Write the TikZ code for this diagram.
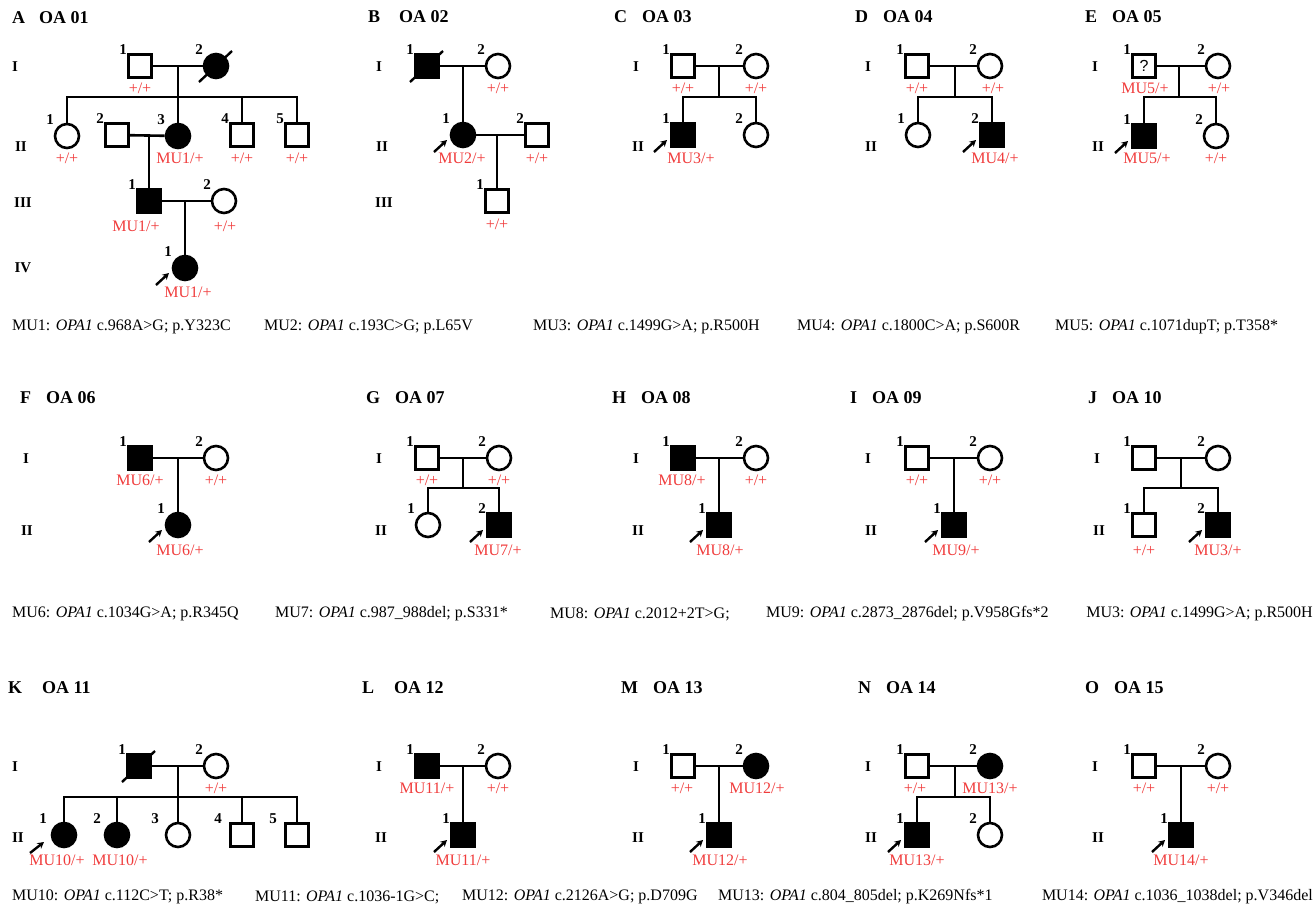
\documentclass[tikz,border=0pt]{standalone}
\usepackage{fontspec}
\setmainfont{Liberation Serif}
\newfontfamily\qfont{Liberation Sans}
\usetikzlibrary{arrows.meta,calc}
\definecolor{gtred}{RGB}{240,60,60}
\newcommand{\nl}[3][-17]{\node[num] (#2n) at ($(#2)+(#1,-16)$) {#3};}
\newcommand{\prb}[1]{\coordinate (#1t) at ($(#1)+(-29,17)$);\coordinate (#1h) at ($(#1)+(-16,5)$);\draw[arr] (#1t) -- (#1h);}
\newcommand{\dcs}[1]{\coordinate (#1d1) at ($(#1)+(-17,16)$);\coordinate (#1d2) at ($(#1)+(16,-15)$);\draw[dec] (#1d1) -- (#1d2);}
\begin{document}
\begin{tikzpicture}[x=1pt,y=-1pt,
  ln/.style={line width=2.6pt},
  sq/.style={draw,line width=2.6pt,minimum size=23pt,inner sep=0pt,fill=white},
  ci/.style={draw,circle,line width=2.6pt,minimum size=24pt,inner sep=0pt,fill=white},
  aff/.style={fill=black},
  num/.style={font=\fontsize{15}{15}\selectfont\bfseries,inner sep=0pt},
  gt/.style={text=gtred,font=\fontsize{16}{16}\selectfont,inner sep=0pt},
  gen/.style={font=\fontsize{15}{15}\selectfont\bfseries,inner sep=0pt},
  ttl/.style={font=\fontsize{18}{18}\selectfont\bfseries,anchor=west,inner sep=0pt},
  captxt/.style={font=\fontsize{16}{16}\selectfont,anchor=west,inner sep=0pt},
  arr/.style={line width=2.4pt,-{Stealth[length=6.5pt,width=7pt]}},
  dec/.style={line width=2.4pt}
]
\useasboundingbox (0,0) rectangle (1316,922);

% ================= A =================
\node[ttl] (At) at (12,18) {A\hspace{14pt}OA 01};
\node[gen] (AgI) at (15,67) {I};
\node[gen] (AgII) at (21,147) {II};
\node[gen] (AgIII) at (23,203) {III};
\node[gen] (AgIV) at (23,268) {IV};
\coordinate (Am1) at (178,66);
\coordinate (As1) at (178,97);
\coordinate (Am2) at (149,135);
\coordinate (Am3) at (185,201);
\node[sq] (A11) at (140,66) {};
\node[ci,aff] (A12) at (216,66) {};
\node[ci] (A21) at (67,136) {};
\node[sq] (A22) at (117,135) {};
\node[ci,aff] (A23) at (178,136) {};
\node[sq] (A24) at (242,135) {};
\node[sq] (A25) at (297,135) {};
\node[sq,aff] (A31) at (149,201) {};
\node[ci] (A32) at (224,201) {};
\node[ci,aff] (A41) at (185,268) {};
\draw[ln] (Am1) -- (As1);
\draw[ln] (Am2) -- (A31.north);
\draw[ln] (Am3) -- (A41.north);
\draw[ln] (A11) -- (A12);
\draw[ln] (A21.north) |- (As1) -| (A25.north);
\draw[ln] (As1) -- (A23.north);
\draw[ln] (A24.north) -- (A24.north |- As1);
\draw[ln] (A22) -- (A23);
\draw[ln] (A31) -- (A32);
\dcs{A12}
\prb{A41}
\nl{A11}{1}\nl{A12}{2}\nl{A21}{1}\nl{A22}{2}\nl{A23}{3}\nl{A24}{4}\nl{A25}{5}
\nl{A31}{1}\nl{A32}{2}\nl{A41}{1}
\node[gt] (A11g) at (140,88) {+/+};
\node[gt] (A21g) at (67,158) {+/+};
\node[gt] (A23g) at (180,158) {MU1/+};
\node[gt] (A24g) at (242,158) {+/+};
\node[gt] (A25g) at (297,158) {+/+};
\node[gt] (A31g) at (136,226) {MU1/+};
\node[gt] (A32g) at (225,226) {+/+};
\node[gt] (A41g) at (188,292) {MU1/+};

% ================= B =================
\node[ttl] (Bt) at (368,17) {B\hspace{19pt}OA 02};
\node[gen] (BgI) at (379,67) {I};
\node[gen] (BgII) at (382,147) {II};
\node[gen] (BgIII) at (384,203) {III};
\coordinate (Bm1) at (463,66);
\coordinate (Bm2) at (497,135);
\node[sq,aff] (B11) at (427,66) {};
\node[ci] (B12) at (498,66) {};
\node[ci,aff] (B21) at (463,135) {};
\node[sq] (B22) at (537,135) {};
\node[sq] (B31) at (497,201) {};
\draw[ln] (B11) -- (B12);
\draw[ln] (Bm1) -- (B21.north);
\draw[ln] (B21) -- (B22);
\draw[ln] (Bm2) -- (B31.north);
\dcs{B11}
\prb{B21}
\nl{B11}{1}\nl{B12}{2}\nl{B21}{1}\nl{B22}{2}\nl{B31}{1}
\node[gt] (B12g) at (498,88) {+/+};
\node[gt] (B21g) at (462,158) {MU2/+};
\node[gt] (B22g) at (537,158) {+/+};
\node[gt] (B31g) at (497,224) {+/+};

% ================= C =================
\node[ttl] (Ct) at (614,17) {C\hspace{15pt}OA 03};
\node[gen] (CgI) at (636,67) {I};
\node[gen] (CgII) at (638,147) {II};
\coordinate (Cm1) at (719,66);
\coordinate (Cs1) at (719,97);
\node[sq] (C11) at (683,66) {};
\node[ci] (C12) at (756,66) {};
\node[sq,aff] (C21) at (683,135) {};
\node[ci] (C22) at (756,135) {};
\draw[ln] (C11) -- (C12);
\draw[ln] (Cm1) -- (Cs1);
\draw[ln] (C21.north) |- (Cs1) -| (C22.north);
\prb{C21}
\nl{C11}{1}\nl{C12}{2}\nl{C21}{1}\nl{C22}{2}
\node[gt] (C11g) at (683,88) {+/+};
\node[gt] (C12g) at (756,88) {+/+};
\node[gt] (C21g) at (691,158) {MU3/+};

% ================= D =================
\node[ttl] (Dt) at (855,17) {D\hspace{15pt}OA 04};
\node[gen] (DgI) at (868,67) {I};
\node[gen] (DgII) at (871,147) {II};
\coordinate (Dm1) at (955,66);
\coordinate (Ds1) at (955,97);
\node[sq] (D11) at (917,66) {};
\node[ci] (D12) at (990,66) {};
\node[ci] (D21) at (918,135) {};
\node[sq,aff] (D22) at (992,135) {};
\draw[ln] (D11) -- (D12);
\draw[ln] (Dm1) -- (Ds1);
\draw[ln] (D21.north) |- (Ds1) -| (D22.north);
\prb{D22}
\nl{D11}{1}\nl{D12}{2}\nl{D21}{1}\nl{D22}{2}
\node[gt] (D11g) at (917,88) {+/+};
\node[gt] (D12g) at (993,88) {+/+};
\node[gt] (D22g) at (995,158) {MU4/+};

% ================= E =================
\node[ttl] (Et) at (1085,17) {E\hspace{15pt}OA 05};
\node[gen] (EgI) at (1095,67) {I};
\node[gen] (EgII) at (1098,147) {II};
\coordinate (Em1) at (1179,66);
\coordinate (Es1) at (1179,97);
\node[sq,font=\qfont\fontsize{16}{16}\selectfont] (E11) at (1144,66) {?};
\node[ci] (E12) at (1218,66) {};
\node[sq,aff] (E21) at (1144,136) {};
\node[ci] (E22) at (1216,136) {};
\draw[ln] (E11) -- (E12);
\draw[ln] (Em1) -- (Es1);
\draw[ln] (E21.north) |- (Es1) -| (E22.north);
\prb{E21}
\nl{E11}{1}\nl{E12}{2}\nl{E21}{1}\nl{E22}{2}
\node[gt] (E11g) at (1145,88) {MU5/+};
\node[gt] (E12g) at (1219,88) {+/+};
\node[gt] (E21g) at (1147,158) {MU5/+};
\node[gt] (E22g) at (1216,158) {+/+};

% captions row 1
\node[captxt] (cap1) at (12,327) {MU1: \textit{OPA1} c.968A>G; p.Y323C};
\node[captxt] (cap2) at (264,327) {MU2: \textit{OPA1} c.193C>G; p.L65V};
\node[captxt] (cap3) at (533,327) {MU3: \textit{OPA1} c.1499G>A; p.R500H};
\node[captxt] (cap4) at (797,327) {MU4: \textit{OPA1} c.1800C>A; p.S600R};
\node[captxt] (cap5) at (1055,327) {MU5: \textit{OPA1} c.1071dupT; p.T358*};

% ================= F =================
\node[ttl] (Ft) at (20,398) {F\hspace{15pt}OA 06};
\node[gen] (FgI) at (26,459) {I};
\node[gen] (FgII) at (27,531) {II};
\coordinate (Fm1) at (178,458);
\node[sq,aff] (F11) at (140,458) {};
\node[ci] (F12) at (216,458) {};
\node[ci,aff] (F21) at (178,525) {};
\draw[ln] (F11) -- (F12);
\draw[ln] (Fm1) -- (F21.north);
\prb{F21}
\nl{F11}{1}\nl{F12}{2}\nl{F21}{1}
\node[gt] (F11g) at (140,480) {MU6/+};
\node[gt] (F12g) at (216,480) {+/+};
\node[gt] (F21g) at (180,550) {MU6/+};

% ================= G =================
\node[ttl] (Gt) at (366,398) {G\hspace{15pt}OA 07};
\node[gen] (GgI) at (379,459) {I};
\node[gen] (GgII) at (381,531) {II};
\coordinate (Gm1) at (463,458);
\coordinate (Gs1) at (463,488);
\node[sq] (G11) at (427,458) {};
\node[ci] (G12) at (499,458) {};
\node[ci] (G21) at (428,525) {};
\node[sq,aff] (G22) at (499,525) {};
\draw[ln] (G11) -- (G12);
\draw[ln] (Gm1) -- (Gs1);
\draw[ln] (G21.north) |- (Gs1) -| (G22.north);
\prb{G22}
\nl{G11}{1}\nl{G12}{2}\nl{G21}{1}\nl{G22}{2}
\node[gt] (G11g) at (427,480) {+/+};
\node[gt] (G12g) at (499,480) {+/+};
\node[gt] (G22g) at (498,550) {MU7/+};

% ================= H =================
\node[ttl] (Ht) at (612,398) {H\hspace{15pt}OA 08};
\node[gen] (HgI) at (636,459) {I};
\node[gen] (HgII) at (638,531) {II};
\coordinate (Hm1) at (719,458);
\node[sq,aff] (H11) at (683,458) {};
\node[ci] (H12) at (756,458) {};
\node[sq,aff] (H21) at (719,525) {};
\draw[ln] (H11) -- (H12);
\draw[ln] (Hm1) -- (H21.north);
\prb{H21}
\nl{H11}{1}\nl{H12}{2}\nl{H21}{1}
\node[gt] (H11g) at (682,480) {MU8/+};
\node[gt] (H12g) at (756,480) {+/+};
\node[gt] (H21g) at (720,550) {MU8/+};

% ================= I =================
\node[ttl] (It) at (850,398) {I\hspace{15pt}OA 09};
\node[gen] (IgI) at (868,459) {I};
\node[gen] (IgII) at (871,531) {II};
\coordinate (Im1) at (954,458);
\node[sq] (I11) at (917,458) {};
\node[ci] (I12) at (990,458) {};
\node[sq,aff] (I21) at (954,525) {};
\draw[ln] (I11) -- (I12);
\draw[ln] (Im1) -- (I21.north);
\prb{I21}
\nl{I11}{1}\nl{I12}{2}\nl{I21}{1}
\node[gt] (I11g) at (917,480) {+/+};
\node[gt] (I12g) at (990,480) {+/+};
\node[gt] (I21g) at (956,550) {MU9/+};

% ================= J =================
\node[ttl] (Jt) at (1088,398) {J\hspace{15pt}OA 10};
\node[gen] (JgI) at (1097,459) {I};
\node[gen] (JgII) at (1099,531) {II};
\coordinate (Jm1) at (1181,458);
\coordinate (Js1) at (1181,488);
\node[sq] (J11) at (1144,458) {};
\node[ci] (J12) at (1218,458) {};
\node[sq] (J21) at (1144,525) {};
\node[sq,aff] (J22) at (1218,525) {};
\draw[ln] (J11) -- (J12);
\draw[ln] (Jm1) -- (Js1);
\draw[ln] (J21.north) |- (Js1) -| (J22.north);
\prb{J22}
\nl{J11}{1}\nl{J12}{2}\nl{J21}{1}\nl{J22}{2}
\node[gt] (J21g) at (1144,550) {+/+};
\node[gt] (J22g) at (1218,550) {MU3/+};

% captions row 2
\node[captxt] (cap6) at (12,614) {MU6: \textit{OPA1} c.1034G>A; p.R345Q};
\node[captxt] (cap7) at (275,614) {MU7: \textit{OPA1} c.987\_988del; p.S331*};
\node[captxt] (cap8) at (550,614) {MU8: \textit{OPA1} c.2012+2T>G;};
\node[captxt] (cap9) at (766,614) {MU9: \textit{OPA1} c.2873\_2876del; p.V958Gfs*2};
\node[captxt,anchor=east] (cap10) at (1313,614) {MU3: \textit{OPA1} c.1499G>A; p.R500H};

% ================= K =================
\node[ttl] (Kt) at (8,688) {K\hspace{20pt}OA 11};
\node[gen] (KgI) at (15,767) {I};
\node[gen] (KgII) at (18,838) {II};
\coordinate (Km1) at (178,766);
\coordinate (Ks1) at (178,797);
\node[sq,aff] (K11) at (139,766) {};
\node[ci] (K12) at (216,766) {};
\node[ci,aff] (K21) at (64,835) {};
\node[ci,aff] (K22) at (117,835) {};
\node[ci] (K23) at (178,835) {};
\node[sq] (K24) at (242,835) {};
\node[sq] (K25) at (297,835) {};
\draw[ln] (K11) -- (K12);
\draw[ln] (Km1) -- (Ks1);
\draw[ln] (K21.north) |- (Ks1) -| (K25.north);
\draw[ln] (K22.north) -- (K22.north |- Ks1);
\draw[ln] (Ks1) -- (K23.north);
\draw[ln] (K24.north) -- (K24.north |- Ks1);
\dcs{K11}
\coordinate (K21t) at (30,853);
\coordinate (K21h) at (44,842);
\draw[arr] (K21t) -- (K21h);
\nl{K11}{1}\nl{K12}{2}
\nl[-21]{K21}{1}\nl[-20]{K22}{2}\nl[-23]{K23}{3}\nl[-24]{K24}{4}\nl[-24]{K25}{5}
\node[gt] (K12g) at (216,788) {+/+};
\node[gt] (K21g) at (57,860) {MU10/+};
\node[gt] (K22g) at (120,860) {MU10/+};

% ================= L =================
\node[ttl] (Lt) at (362,688) {L\hspace{20pt}OA 12};
\node[gen] (LgI) at (379,767) {I};
\node[gen] (LgII) at (381,838) {II};
\coordinate (Lm1) at (463,766);
\node[sq,aff] (L11) at (427,766) {};
\node[ci] (L12) at (498,766) {};
\node[sq,aff] (L21) at (463,835) {};
\draw[ln] (L11) -- (L12);
\draw[ln] (Lm1) -- (L21.north);
\prb{L21}
\nl{L11}{1}\nl{L12}{2}\nl{L21}{1}
\node[gt] (L11g) at (427,788) {MU11/+};
\node[gt] (L12g) at (498,788) {+/+};
\node[gt] (L21g) at (463,860) {MU11/+};

% ================= M =================
\node[ttl] (Mt) at (621,688) {M\hspace{15pt}OA 13};
\node[gen] (MgI) at (636,767) {I};
\node[gen] (MgII) at (638,838) {II};
\coordinate (Mm1) at (719,766);
\node[sq] (M11) at (683,766) {};
\node[ci,aff] (M12) at (756,766) {};
\node[sq,aff] (M21) at (719,835) {};
\draw[ln] (M11) -- (M12);
\draw[ln] (Mm1) -- (M21.north);
\prb{M21}
\nl{M11}{1}\nl{M12}{2}\nl{M21}{1}
\node[gt] (M11g) at (682,788) {+/+};
\node[gt] (M12g) at (757,788) {MU12/+};
\node[gt] (M21g) at (720,860) {MU12/+};

% ================= N =================
\node[ttl] (Nt) at (858,688) {N\hspace{15pt}OA 14};
\node[gen] (NgI) at (868,767) {I};
\node[gen] (NgII) at (871,838) {II};
\coordinate (Nm1) at (955,766);
\coordinate (Ns1) at (955,797);
\node[sq] (N11) at (917,766) {};
\node[ci,aff] (N12) at (990,766) {};
\node[sq,aff] (N21) at (917,835) {};
\node[ci] (N22) at (990,835) {};
\draw[ln] (N11) -- (N12);
\draw[ln] (Nm1) -- (Ns1);
\draw[ln] (N21.north) |- (Ns1) -| (N22.north);
\prb{N21}
\nl{N11}{1}\nl{N12}{2}\nl{N21}{1}\nl{N22}{2}
\node[gt] (N11g) at (915,788) {+/+};
\node[gt] (N12g) at (990,788) {MU13/+};
\node[gt] (N21g) at (917,860) {MU13/+};

% ================= O =================
\node[ttl] (Ot) at (1085,688) {O\hspace{15pt}OA 15};
\node[gen] (OgI) at (1095,767) {I};
\node[gen] (OgII) at (1098,838) {II};
\coordinate (Om1) at (1181,766);
\node[sq] (O11) at (1144,766) {};
\node[ci] (O12) at (1218,766) {};
\node[sq,aff] (O21) at (1181,835) {};
\draw[ln] (O11) -- (O12);
\draw[ln] (Om1) -- (O21.north);
\prb{O21}
\nl{O11}{1}\nl{O12}{2}\nl{O21}{1}
\node[gt] (O11g) at (1144,788) {+/+};
\node[gt] (O12g) at (1218,788) {+/+};
\node[gt] (O21g) at (1181,860) {MU14/+};

% captions row 3
\node[captxt] (cap11) at (12,897) {MU10: \textit{OPA1} c.112C>T; p.R38*};
\node[captxt] (cap12) at (255,897) {MU11: \textit{OPA1} c.1036-1G>C;};
\node[captxt] (cap13) at (462,897) {MU12: \textit{OPA1} c.2126A>G; p.D709G};
\node[captxt] (cap14) at (718,897) {MU13: \textit{OPA1} c.804\_805del; p.K269Nfs*1};
\node[captxt,anchor=east] (cap15) at (1313,897) {MU14: \textit{OPA1} c.1036\_1038del; p.V346del};
\end{tikzpicture}
\end{document}
